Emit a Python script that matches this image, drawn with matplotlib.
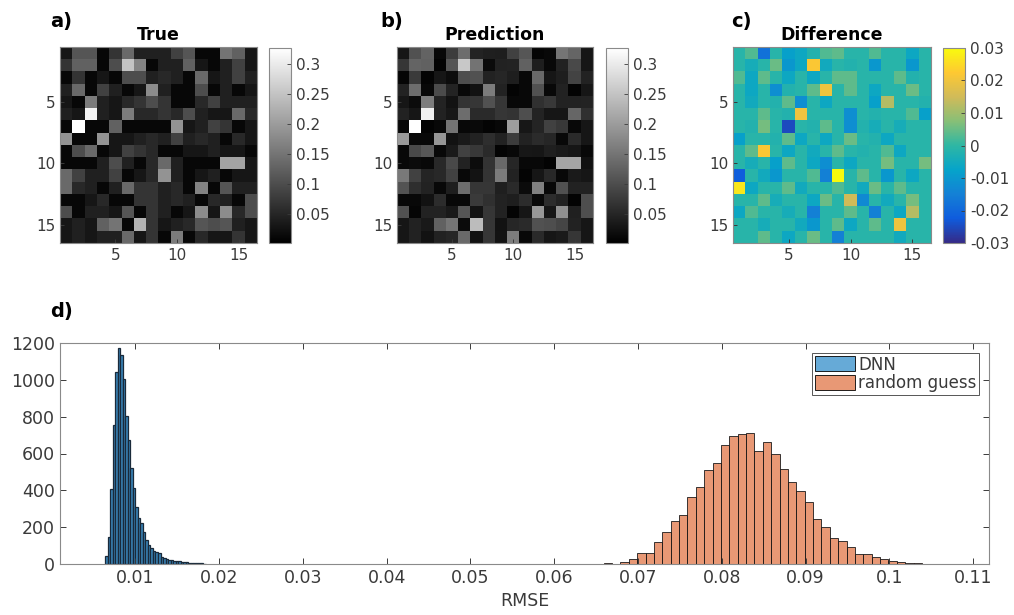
import numpy as np
import matplotlib
matplotlib.use("Agg")
import matplotlib.pyplot as plt
from matplotlib.colors import LinearSegmentedColormap
from matplotlib.patches import Patch

# ---------------- data ----------------
true_vals = [
    [0.03, 0.11, 0.11, 0.012, 0.07, 0.135, 0.045, 0.045, 0.045, 0.085, 0.11, 0.012, 0.012, 0.15, 0.125, 0.03],
    [0.07, 0.125, 0.125, 0.012, 0.10, 0.25, 0.17, 0.012, 0.045, 0.045, 0.125, 0.03, 0.012, 0.045, 0.085, 0.03],
    [0.012, 0.07, 0.012, 0.03, 0.012, 0.10, 0.10, 0.045, 0.055, 0.045, 0.012, 0.135, 0.03, 0.045, 0.085, 0.045],
    [0.045, 0.135, 0.012, 0.085, 0.045, 0.012, 0.03, 0.18, 0.045, 0.012, 0.012, 0.10, 0.012, 0.045, 0.012, 0.03],
    [0.03, 0.012, 0.16, 0.045, 0.03, 0.055, 0.07, 0.10, 0.07, 0.012, 0.012, 0.055, 0.085, 0.045, 0.045, 0.045],
    [0.045, 0.03, 0.31, 0.045, 0.03, 0.16, 0.055, 0.055, 0.07, 0.055, 0.10, 0.045, 0.03, 0.03, 0.135, 0.055],
    [0.012, 0.33, 0.012, 0.012, 0.125, 0.012, 0.012, 0.012, 0.012, 0.19, 0.03, 0.045, 0.085, 0.07, 0.012, 0.03],
    [0.19, 0.012, 0.012, 0.19, 0.03, 0.03, 0.045, 0.055, 0.045, 0.085, 0.045, 0.055, 0.045, 0.012, 0.055, 0.03],
    [0.012, 0.10, 0.135, 0.012, 0.03, 0.085, 0.07, 0.055, 0.012, 0.012, 0.03, 0.03, 0.045, 0.03, 0.03, 0.012],
    [0.012, 0.012, 0.012, 0.045, 0.10, 0.045, 0.012, 0.055, 0.135, 0.045, 0.012, 0.012, 0.012, 0.21, 0.21, 0.03],
    [0.135, 0.085, 0.045, 0.045, 0.085, 0.012, 0.03, 0.055, 0.19, 0.045, 0.012, 0.03, 0.045, 0.012, 0.03, 0.03],
    [0.135, 0.055, 0.045, 0.012, 0.045, 0.135, 0.07, 0.07, 0.045, 0.055, 0.012, 0.17, 0.012, 0.11, 0.045, 0.045],
    [0.012, 0.012, 0.03, 0.055, 0.012, 0.012, 0.07, 0.07, 0.045, 0.055, 0.045, 0.012, 0.055, 0.045, 0.012, 0.10],
    [0.10, 0.012, 0.045, 0.045, 0.03, 0.11, 0.012, 0.07, 0.045, 0.012, 0.03, 0.18, 0.03, 0.18, 0.055, 0.10],
    [0.03, 0.045, 0.03, 0.125, 0.15, 0.012, 0.23, 0.07, 0.03, 0.045, 0.055, 0.11, 0.10, 0.11, 0.045, 0.03],
    [0.03, 0.045, 0.03, 0.045, 0.045, 0.135, 0.03, 0.07, 0.012, 0.16, 0.012, 0.055, 0.03, 0.03, 0.07, 0.03],
]

diff_vals = [
    [-0.001, 0.003, -0.018, -0.001, -0.008, -0.006, -0.002, 0.003, 0.004, -0.001, -0.001, 0.003, -0.001, -0.001, -0.006, -0.001],
    [-0.001, -0.004, -0.001, 0.005, -0.010, -0.006, 0.022, -0.005, -0.001, -0.002, -0.001, -0.010, -0.001, -0.001, -0.010, -0.001],
    [0.003, -0.006, 0.004, -0.001, -0.006, -0.001, -0.006, -0.001, 0.004, 0.004, -0.001, -0.001, -0.001, 0.004, -0.002, -0.001],
    [-0.001, -0.006, -0.001, -0.012, -0.002, -0.001, 0.004, 0.020, -0.001, 0.004, -0.001, -0.006, -0.001, -0.001, 0.005, -0.001],
    [-0.001, -0.005, -0.001, -0.002, 0.004, -0.012, -0.001, -0.006, -0.001, -0.001, -0.001, -0.008, 0.012, -0.001, -0.001, -0.002],
    [-0.001, -0.001, 0.004, -0.001, -0.002, 0.020, -0.001, -0.001, -0.001, -0.012, -0.001, -0.002, -0.001, -0.001, 0.003, -0.008],
    [-0.001, -0.002, 0.006, -0.001, -0.025, -0.001, -0.002, 0.004, -0.001, -0.012, -0.002, -0.004, -0.001, -0.004, -0.001, -0.001],
    [-0.008, -0.001, -0.001, -0.002, 0.004, -0.006, -0.001, -0.006, -0.001, 0.005, -0.001, -0.002, -0.006, -0.001, -0.001, -0.001],
    [-0.001, 0.004, 0.022, -0.001, -0.006, -0.001, -0.005, -0.001, 0.004, -0.001, -0.002, -0.001, 0.003, -0.006, -0.001, -0.001],
    [-0.001, -0.004, -0.001, -0.008, 0.004, -0.001, -0.006, -0.012, -0.001, -0.006, -0.001, -0.001, 0.006, -0.001, -0.001, 0.006],
    [-0.022, -0.001, -0.005, -0.010, -0.001, -0.001, 0.003, -0.015, 0.030, -0.001, 0.004, -0.001, -0.010, -0.001, -0.006, -0.001],
    [0.027, -0.006, -0.001, -0.001, 0.004, -0.005, -0.001, -0.001, 0.003, -0.001, -0.005, 0.005, -0.001, 0.004, -0.001, -0.001],
    [-0.001, -0.001, 0.004, -0.004, -0.001, -0.001, -0.006, 0.005, -0.001, 0.015, -0.013, -0.001, -0.005, -0.001, 0.006, -0.001],
    [-0.006, 0.003, -0.001, -0.001, -0.004, -0.001, -0.015, -0.001, -0.001, 0.004, -0.001, -0.015, -0.001, -0.006, 0.012, -0.001],
    [-0.001, -0.001, -0.004, -0.001, -0.001, -0.005, -0.010, -0.001, 0.004, -0.006, -0.001, 0.004, -0.001, 0.020, -0.001, -0.001],
    [-0.001, -0.001, 0.004, -0.001, -0.006, -0.001, 0.005, -0.001, -0.015, -0.001, -0.001, -0.001, -0.001, -0.005, -0.001, -0.001],
]

# histogram of RMSE (bin left edges / counts)
dnn_start, dnn_width = 0.0064, 0.0003
dnn_counts = [45, 148, 407, 754, 1043, 1175, 1134, 1002, 803, 673, 519, 410, 311, 251,
              220, 175, 130, 103, 85, 70, 63, 58, 40, 31, 25, 22, 20, 18, 16, 14, 13,
              12, 10, 8, 6, 5, 4, 3, 3, 2]
rnd_start, rnd_width = 0.0659, 0.001
rnd_counts = [4, 2, 12, 25, 58, 62, 120, 175, 233, 264, 365, 420, 510, 546, 645, 696,
              705, 709, 613, 660, 600, 515, 447, 396, 338, 242, 199, 139, 127, 94, 52,
              52, 40, 25, 18, 12, 8, 3]

series_names = ["DNN", "random guess"]
panel_titles = ["True", "Prediction", "Difference"]
panel_letters = ["a)", "b)", "c)", "d)"]
img_ticks = [5, 10, 15]
gray_cticks = [0.05, 0.1, 0.15, 0.2, 0.25, 0.3]
gray_clabels = ["0.05", "0.1", "0.15", "0.2", "0.25", "0.3"]
diff_cticks = [-0.03, -0.02, -0.01, 0, 0.01, 0.02, 0.03]
diff_clabels = ["-0.03", "-0.02", "-0.01", "0", "0.01", "0.02", "0.03"]
hist_xticks = [0.01, 0.02, 0.03, 0.04, 0.05, 0.06, 0.07, 0.08, 0.09, 0.1, 0.11]
hist_xlabels = ["0.01", "0.02", "0.03", "0.04", "0.05", "0.06", "0.07", "0.08", "0.09", "0.1", "0.11"]
hist_yticks = [0, 200, 400, 600, 800, 1000, 1200]

true_m = np.array(true_vals)
diff_m = np.array(diff_vals)
pred_m = np.clip(true_m - diff_m, 0, None)

# ---------------- style ----------------
parula_anchor = [
    (0.2081, 0.1663, 0.5292), (0.0591, 0.3598, 0.8683), (0.0779, 0.5040, 0.8384),
    (0.0231, 0.6418, 0.7913), (0.1801, 0.7177, 0.6424), (0.5300, 0.7491, 0.4661),
    (0.8185, 0.7327, 0.3498), (0.9955, 0.7861, 0.1967), (0.9763, 0.9831, 0.0538)]
parula = LinearSegmentedColormap.from_list("parula", parula_anchor, N=256)

plt.rcParams['font.family'] = ['DejaVu Sans']
txt_col = "#3a3a3a"
W, H = 1014, 615
fig = plt.figure(figsize=(W / 100, H / 100), dpi=100)

def px_axes(x0, y0, x1, y1):
    return fig.add_axes([x0 / W, 1 - y1 / H, (x1 - x0) / W, (y1 - y0) / H])

def style_axis(ax, fs):
    ax.tick_params(direction="in", length=4, width=0.7, colors=txt_col,
                   labelsize=fs, top=True, right=True)
    for s in ax.spines.values():
        s.set_color("#8a8a8a")
        s.set_linewidth(0.8)

img_boxes = [(60, 47, 257, 243), (397, 47, 593, 243), (733, 47, 931, 243)]
cb_boxes = [(269, 48, 291, 243), (606, 48, 628, 243), (943, 48, 965, 243)]
mats = [true_m, pred_m, diff_m]
cmaps = ["gray", "gray", parula]
lims = [(0.002, 0.326), (0.002, 0.326), (-0.03, 0.03)]
letter_x = [50, 380, 731]

for k in range(3):
    ax = px_axes(*img_boxes[k])
    im = ax.imshow(mats[k], cmap=cmaps[k], vmin=lims[k][0], vmax=lims[k][1],
                   extent=(0.5, 16.5, 16.5, 0.5), aspect="auto", interpolation="nearest")
    ax.set_xticks(img_ticks)
    ax.set_yticks(img_ticks)
    style_axis(ax, 11)
    ax.tick_params(top=False, right=False, length=3)
    ax.set_title(panel_titles[k], fontsize=12.5, fontweight="bold", pad=5)
    cax = px_axes(*cb_boxes[k])
    cb = fig.colorbar(im, cax=cax)
    if k < 2:
        cb.set_ticks(gray_cticks)
        cb.set_ticklabels(gray_clabels)
    else:
        cb.set_ticks(diff_cticks)
        cb.set_ticklabels(diff_clabels)
    cb.ax.tick_params(direction="in", length=3, width=0.6, colors=txt_col, labelsize=11)
    cb.outline.set_edgecolor("#8a8a8a")
    cb.outline.set_linewidth(0.8)
    fig.text(letter_x[k] / W, 1 - 22 / H, panel_letters[k], fontsize=14,
             fontweight="bold", va="center", ha="left")

# ---------------- histogram ----------------
axh = px_axes(60, 343, 989, 564)
blue = (0.0, 0.447, 0.741)
orange = (0.85, 0.325, 0.098)
dnn_left = dnn_start + dnn_width * np.arange(len(dnn_counts))
rnd_left = rnd_start + rnd_width * np.arange(len(rnd_counts))
axh.bar(dnn_left, dnn_counts, width=dnn_width, align="edge",
        facecolor=(0.22, 0.50, 0.70), edgecolor="#1a2a3a", linewidth=0.9)
axh.bar(rnd_left, rnd_counts, width=rnd_width, align="edge",
        facecolor=orange + (0.6,), edgecolor="#1a1a1a", linewidth=0.6)
axh.set_xlim(0.001, 0.1119)
axh.set_ylim(0, 1200)
axh.set_xticks(hist_xticks)
axh.set_xticklabels(hist_xlabels)
axh.set_yticks(hist_yticks)
style_axis(axh, 12.5)
axh.set_xlabel("RMSE", fontsize=12.5, color=txt_col, labelpad=4)
handles = [Patch(facecolor=blue + (0.6,), edgecolor="black", linewidth=0.6),
           Patch(facecolor=orange + (0.6,), edgecolor="black", linewidth=0.6)]
leg = axh.legend(handles, series_names, loc="upper right",
                 bbox_to_anchor=((979 - 60) / 929, 1 - (353 - 343) / 221),
                 borderaxespad=0, fontsize=12, fancybox=False, framealpha=1,
                 handlelength=2.4, handleheight=1.0, handletextpad=0.2,
                 labelspacing=0.05, borderpad=0.15)
leg.get_frame().set_edgecolor("#555555")
leg.get_frame().set_linewidth(0.7)
for t in leg.get_texts():
    t.set_color(txt_col)
fig.text(50 / W, 1 - 312 / H, panel_letters[3], fontsize=14,
         fontweight="bold", va="center", ha="left")

fig.savefig("out.png", dpi=100)
